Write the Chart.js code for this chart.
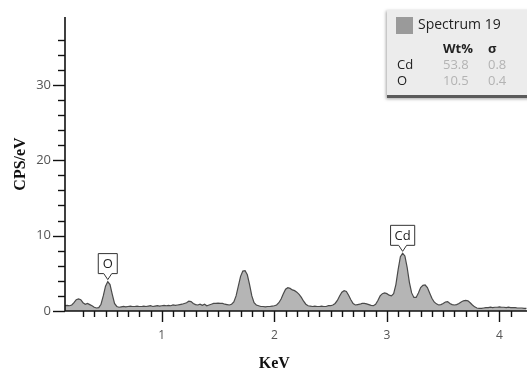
<!DOCTYPE html>
<html>
<head>
<meta charset="utf-8">
<script src="https://cdn.jsdelivr.net/npm/chart.js@4"></script>
<style>
    html, body { margin: 0; padding: 0; background: #fff; }
    #wrap { position: relative; width: 527px; height: 372px; overflow: hidden; }
    #panel {
        position: absolute; left: 387px; top: 10px; width: 150px; height: 85px;
        background: #ececec; border-bottom: 3px solid #5a5a5a;
        box-shadow: -1px 1px 3px rgba(0,0,0,0.35);
        font-family: "Open Sans", "Noto Sans", sans-serif; color: #222;
    }
    #panel span { position: absolute; white-space: nowrap; line-height: 1; }
    #swatch { position: absolute; left: 9px; top: 7px; width: 17px; height: 17px; background: #9a9a9a; }
    .dim { color: #b3b3b3; }
</style>
</head>
<body>
<div id="wrap">
    <canvas id="spectrumChart" width="527" height="372"></canvas>
    <div id="panel">
        <div id="swatch"></div>
        <span style="left:31px; top:7px; font-size:14px;">Spectrum 19</span>
        <span style="left:56px; top:32px; font-size:13px; font-weight:bold;">Wt%</span>
        <span style="left:101px; top:32px; font-size:13px; font-weight:bold;">σ</span>
        <span style="left:10px; top:48px; font-size:13px;">Cd</span>
        <span class="dim" style="left:56px; top:48px; font-size:13px;">53.8</span>
        <span class="dim" style="left:101px; top:48px; font-size:13px;">0.8</span>
        <span style="left:10px; top:64px; font-size:13px;">O</span>
        <span class="dim" style="left:56px; top:64px; font-size:13px;">10.5</span>
        <span class="dim" style="left:101px; top:64px; font-size:13px;">0.4</span>
    </div>
</div>
<script>
// ===============================
// SPECTRUM DATA
// ===============================

const energies = [
    0.14, 0.16, 0.18, 0.20, 0.22, 0.24, 0.26, 0.28, 0.30, 0.32, 0.34, 0.36, 0.38, 0.40, 0.42, 0.44, 0.46, 0.48, 0.50, 0.52,
    0.54, 0.56, 0.58, 0.60, 0.62, 0.64, 0.66, 0.68, 0.70, 0.72, 0.74, 0.76, 0.78, 0.80, 0.82, 0.84, 0.86, 0.88, 0.90, 0.92,
    0.94, 0.96, 0.98, 1.00, 1.02, 1.04, 1.06, 1.08, 1.10, 1.12, 1.14, 1.16, 1.18, 1.20, 1.22, 1.24, 1.26, 1.28, 1.30, 1.32,
    1.34, 1.36, 1.38, 1.40, 1.42, 1.44, 1.46, 1.48, 1.50, 1.52, 1.54, 1.56, 1.58, 1.60, 1.62, 1.64, 1.66, 1.68, 1.70, 1.72,
    1.74, 1.76, 1.78, 1.80, 1.82, 1.84, 1.86, 1.88, 1.90, 1.92, 1.94, 1.96, 1.98, 2.00, 2.02, 2.04, 2.06, 2.08, 2.10, 2.12,
    2.14, 2.16, 2.18, 2.20, 2.22, 2.24, 2.26, 2.28, 2.30, 2.32, 2.34, 2.36, 2.38, 2.40, 2.42, 2.44, 2.46, 2.48, 2.50, 2.52,
    2.54, 2.56, 2.58, 2.60, 2.62, 2.64, 2.66, 2.68, 2.70, 2.72, 2.74, 2.76, 2.78, 2.80, 2.82, 2.84, 2.86, 2.88, 2.90, 2.92,
    2.94, 2.96, 2.98, 3.00, 3.02, 3.04, 3.06, 3.08, 3.10, 3.12, 3.14, 3.16, 3.18, 3.20, 3.22, 3.24, 3.26, 3.28, 3.30, 3.32,
    3.34, 3.36, 3.38, 3.40, 3.42, 3.44, 3.46, 3.48, 3.50, 3.52, 3.54, 3.56, 3.58, 3.60, 3.62, 3.64, 3.66, 3.68, 3.70, 3.72,
    3.74, 3.76, 3.78, 3.80, 3.82, 3.84, 3.86, 3.88, 3.90, 3.92, 3.94, 3.96, 3.98, 4.00, 4.02, 4.04, 4.06, 4.08, 4.10, 4.12,
    4.14, 4.16, 4.18, 4.20, 4.22, 4.24
];

const counts = [
    0.70, 0.75, 0.70, 0.80, 1.10, 1.50, 1.60, 1.50, 1.10, 0.90, 1.00, 0.85, 0.70, 0.50, 0.40, 0.45, 0.90, 2.00, 3.30, 3.90,
    3.50, 2.20, 1.00, 0.60, 0.50, 0.55, 0.60, 0.55, 0.60, 0.65, 0.60, 0.60, 0.65, 0.60, 0.60, 0.65, 0.60, 0.65, 0.70, 0.60,
    0.65, 0.70, 0.65, 0.70, 0.75, 0.70, 0.75, 0.70, 0.80, 0.75, 0.80, 0.85, 0.90, 1.00, 1.10, 1.30, 1.25, 1.00, 0.85, 0.80,
    0.90, 0.75, 0.90, 0.70, 0.80, 0.90, 1.00, 1.00, 1.05, 1.00, 1.00, 0.90, 0.85, 0.80, 0.90, 1.20, 2.00, 3.30, 4.60, 5.30,
    5.35, 4.80, 3.50, 2.00, 1.10, 0.80, 0.70, 0.60, 0.60, 0.55, 0.60, 0.60, 0.65, 0.70, 0.80, 1.10, 1.60, 2.30, 2.90, 3.10,
    3.00, 2.80, 2.70, 2.50, 2.20, 1.80, 1.30, 0.90, 0.70, 0.65, 0.60, 0.65, 0.60, 0.60, 0.65, 0.60, 0.60, 0.70, 0.70, 0.80,
    1.00, 1.40, 2.00, 2.50, 2.70, 2.60, 2.10, 1.50, 1.00, 0.80, 0.85, 0.90, 1.00, 1.00, 0.95, 0.85, 0.75, 0.70, 0.90, 1.40,
    2.00, 2.30, 2.40, 2.30, 2.10, 2.00, 2.30, 3.50, 5.50, 7.20, 7.65, 7.30, 5.80, 3.80, 2.40, 1.80, 1.80, 2.40, 3.10, 3.40,
    3.45, 3.10, 2.40, 1.70, 1.20, 0.95, 0.80, 0.85, 1.00, 1.20, 1.25, 1.00, 0.85, 0.80, 0.85, 1.00, 1.20, 1.35, 1.40, 1.35,
    1.10, 0.80, 0.55, 0.40, 0.35, 0.35, 0.40, 0.45, 0.45, 0.50, 0.45, 0.50, 0.50, 0.55, 0.50, 0.50, 0.45, 0.50, 0.45, 0.45,
    0.45, 0.40, 0.40, 0.40, 0.35, 0.35
];

// peak markers: element name and the energy of its peak
const peakNames = ["O", "Cd"];
const peakEnergies = [0.52, 3.14];

const xMin = 0.14, xMax = 4.245;
const yMin = 0, yMax = 39;
const xTitle = "KeV";

// ===============================
// HELPERS
// ===============================

function isStep(v, step) {
    const r = v / step;
    return Math.abs(r - Math.round(r)) < 1e-6;
}

// axis lines, minor/major ticks, x title and peak labels
const spectrumDecor = {
    id: "spectrumDecor",
    afterDraw(chart) {
        const ctx = chart.ctx;
        const xs = chart.scales.x;
        const ys = chart.scales.y;
        const area = chart.chartArea;

        ctx.save();
        ctx.strokeStyle = "#111";

        // axis lines
        ctx.lineWidth = 1.6;
        ctx.beginPath();
        ctx.moveTo(area.left, area.top);
        ctx.lineTo(area.left, area.bottom);
        ctx.lineTo(area.right, area.bottom);
        ctx.stroke();

        // y ticks
        ctx.lineWidth = 1.4;
        ys.ticks.forEach(t => {
            if (!isStep(t.value, 2)) return;
            const py = Math.round(ys.getPixelForValue(t.value)) + 0.5;
            const len = isStep(t.value, 10) ? 12 : 7;
            ctx.beginPath();
            ctx.moveTo(area.left - len, py);
            ctx.lineTo(area.left, py);
            ctx.stroke();
        });

        // x ticks
        xs.ticks.forEach(t => {
            if (!isStep(t.value, 0.1)) return;
            const px = Math.round(xs.getPixelForValue(t.value)) + 0.5;
            const len = isStep(t.value, 1) ? 11 : 6;
            ctx.beginPath();
            ctx.moveTo(px, area.bottom);
            ctx.lineTo(px, area.bottom + len);
            ctx.stroke();
        });

        // x title sits under the 2 keV tick in the original
        ctx.font = "bold 16px 'Liberation Serif', serif";
        ctx.fillStyle = "#111";
        ctx.textAlign = "center";
        ctx.textBaseline = "middle";
        ctx.fillText(xTitle, xs.getPixelForValue(2.0), 364);

        // peak labels
        ctx.font = "13px 'Open Sans', 'Noto Sans', sans-serif";
        peakNames.forEach((name, i) => {
            const e = peakEnergies[i];
            const idx = energies.findIndex(v => Math.abs(v - e) < 1e-6);
            const px = xs.getPixelForValue(e);
            const tip = ys.getPixelForValue(counts[idx]) - 2;
            const w = Math.max(19, ctx.measureText(name).width + 8);
            const h = 20;
            const boxBottom = tip - 6;
            const boxTop = boxBottom - h;
            ctx.fillStyle = "#fff";
            ctx.strokeStyle = "#333";
            ctx.lineWidth = 1;
            ctx.beginPath();
            ctx.moveTo(px - w / 2, boxTop);
            ctx.lineTo(px + w / 2, boxTop);
            ctx.lineTo(px + w / 2, boxBottom);
            ctx.lineTo(px + 4, boxBottom);
            ctx.lineTo(px, tip);
            ctx.lineTo(px - 4, boxBottom);
            ctx.lineTo(px - w / 2, boxBottom);
            ctx.closePath();
            ctx.fill();
            ctx.stroke();
            ctx.fillStyle = "#222";
            ctx.fillText(name, px, boxTop + h / 2 + 1);
        });

        ctx.restore();
    }
};

// ===============================
// CHART
// ===============================

const ctx = document.getElementById("spectrumChart").getContext("2d");

const chart = new Chart(ctx, {
    type: "line",
    data: {
        labels: energies,
        datasets: [{
            label: "Spectrum 19",
            data: energies.map((e, i) => ({ x: e, y: counts[i] })),
            borderColor: "#4a4a4a",
            borderWidth: 1.2,
            backgroundColor: "#b5b5b5",
            fill: "origin",
            pointRadius: 0,
            tension: 0
        }]
    },
    options: {
        responsive: false,
        animation: false,
        layout: { padding: { top: 17, right: 0, bottom: 0, left: 0 } },
        plugins: {
            legend: { display: false },
            tooltip: { enabled: false }
        },
        scales: {
            x: {
                type: "linear",
                min: xMin,
                max: xMax,
                afterFit: s => { s.height = 61; s.paddingLeft = 0; s.paddingRight = 0; },
                grid: { display: false, drawTicks: false },
                border: { display: false },
                ticks: {
                    stepSize: 0.1,
                    autoSkip: false,
                    maxRotation: 0,
                    padding: 17,
                    color: "#555",
                    font: { family: "'Open Sans', 'Noto Sans', sans-serif", size: 12 },
                    callback: v => isStep(v, 1) ? String(Math.round(v)) : ""
                },
                title: { display: false }
            },
            y: {
                min: yMin,
                max: yMax,
                afterFit: s => { s.width = 65; s.paddingTop = 0; s.paddingBottom = 0; },
                grid: { display: false, drawTicks: false },
                border: { display: false },
                ticks: {
                    stepSize: 2,
                    autoSkip: false,
                    padding: 14,
                    color: "#555",
                    font: { family: "'Open Sans', 'Noto Sans', sans-serif", size: 13 },
                    callback: v => isStep(v, 10) ? String(Math.round(v)) : ""
                },
                title: {
                    display: true,
                    text: "CPS/eV",
                    color: "#111",
                    padding: { top: 11, bottom: 0 },
                    font: { family: "'Liberation Serif', serif", size: 16, weight: "bold" }
                }
            }
        }
    },
    plugins: [spectrumDecor]
});
</script>
</body>
</html>
